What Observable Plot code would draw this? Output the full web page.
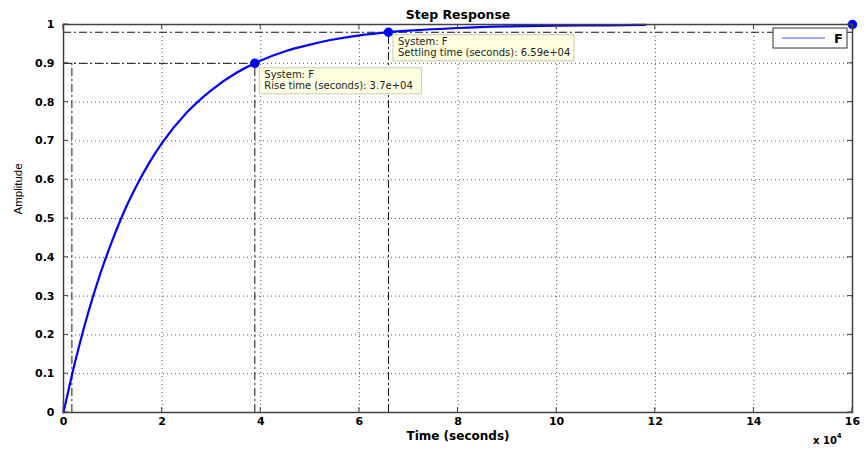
<!DOCTYPE html>
<html><head><meta charset="utf-8">
<script src="https://cdn.jsdelivr.net/npm/d3@7"></script>
<script src="https://cdn.jsdelivr.net/npm/@observablehq/plot@0.6"></script>
<style>
body{margin:0;background:#fff;}
#chart{position:relative;width:866px;height:454px;}
</style>
</head><body><div id="chart"></div>
<script>
// Step response of system F (time in units of 1e4 seconds)
const timeE4 = [0,0.25,0.5,0.75,1,1.25,1.5,1.75,2,2.5,3,3.5,4,4.5,5,5.5,6,6.5,7,8,9,10,11,11.8];
const amplitude = [0,0.138,0.257,0.359,0.447,0.524,0.589,0.646,0.695,0.773,0.831,0.875,0.907,0.931,0.948,0.962,0.972,0.979,0.984,0.991,0.995,0.997,0.998,0.999];
const xTicks = [0,2,4,6,8,10,12,14,16];
const yTicks = [0,0.1,0.2,0.3,0.4,0.5,0.6,0.7,0.8,0.9,1];
const riseLow = 0.17, riseHigh = 3.88, riseLevel = 0.9;
const settleTime = 6.59, settleLevel = 0.98;
const steadyTime = 16, steadyValue = 1;
const riseTip = ["System: F", "Rise time (seconds): 3.7e+04"];
const settleTip = ["System: F", "Settling time (seconds): 6.59e+04"];
const seriesName = "F";

const curve = timeE4.map((t,i)=>({t, a: amplitude[i]}));
const markers = [{t: riseHigh, a: riseLevel},{t: settleTime, a: settleLevel},{t: steadyTime, a: steadyValue}];
const hLines = [{x1:0, x2:riseHigh, y:riseLevel},{x1:0, x2:steadyTime, y:settleLevel}];
const vLines = [{x:riseLow, y1:0, y2:riseLevel},{x:riseHigh, y1:0, y2:riseLevel},{x:settleTime, y1:0, y2:settleLevel}];
const dash = "8,3,2,3";
const gridStyle = {stroke:"#555", strokeOpacity:1, strokeDasharray:"1,3", strokeWidth:1};
const axisCol = "#404040";

const chart = Plot.plot({
  width: 866, height: 454,
  marginLeft: 63, marginRight: 14, marginTop: 24, marginBottom: 42,
  style: {fontFamily: "DejaVu Sans", fontSize: "11px", fontWeight: "bold", color: "black", background: "white", overflow: "visible"},
  x: {domain: [0,16]},
  y: {domain: [0,1]},
  marks: [
    Plot.gridX(xTicks, gridStyle),
    Plot.gridY(yTicks, gridStyle),
    Plot.ruleY(hLines, {y:"y", x1:"x1", x2:"x2", stroke:"#111", strokeDasharray: dash}),
    Plot.ruleX(vLines, {x:"x", y1:"y1", y2:"y2", stroke:"#111", strokeDasharray: dash}),
    Plot.line(curve, {x:"t", y:"a", stroke:"#0000ff", strokeWidth:2.2, curve:"monotone-x"}),
    Plot.dot(markers, {x:"t", y:"a", r:4, fill:"#0000ff", stroke:"#0000ff"}),
    Plot.frame({stroke: axisCol, strokeWidth: 1.5}),
    Plot.axisX(xTicks, {anchor:"bottom", tickSize:0, tickPadding:5, tickFormat: d=>String(d), label:null}),
    Plot.axisY(yTicks, {anchor:"left", tickSize:0, tickPadding:9, tickFormat: d=>String(d), label:null}),
    Plot.text(["Step Response"], {frameAnchor:"top", dy:-6, lineAnchor:"bottom", fontSize:12.5, fontWeight:"bold"}),
    Plot.text(["Time (seconds)"], {frameAnchor:"bottom", dy:19, lineAnchor:"top", fontSize:12, fontWeight:"bold"}),
    Plot.text(["Amplitude"], {frameAnchor:"left", dx:-45, dy:-4, rotate:-90, fontFamily:"Liberation Sans", fontWeight:"normal", fontSize:11.5})
  ]
});
document.getElementById("chart").appendChild(chart);

(function(){
const sx = chart.scale("x"), sy = chart.scale("y");
const svg = d3.select(chart);
const X = v => sx.apply(v), Y = v => sy.apply(v);
const pLeft = X(0), pRight = X(16), pBottom = Y(0), pTop = Y(1);

// inward tick marks on all four sides
const tk = svg.append("g").attr("stroke", axisCol).attr("stroke-width", 1);
xTicks.forEach(v => {
  tk.append("line").attr("x1", X(v)).attr("x2", X(v)).attr("y1", pBottom).attr("y2", pBottom-5);
  tk.append("line").attr("x1", X(v)).attr("x2", X(v)).attr("y1", pTop).attr("y2", pTop+5);
});
yTicks.forEach(v => {
  tk.append("line").attr("y1", Y(v)).attr("y2", Y(v)).attr("x1", pLeft).attr("x2", pLeft+5);
  tk.append("line").attr("y1", Y(v)).attr("y2", Y(v)).attr("x1", pRight).attr("x2", pRight-5);
});

// data tips
function tip(px, py, dx, dy, lines, w) {
  const g = svg.append("g").attr("transform", `translate(${px+dx},${py+dy})`).attr("text-anchor", "start");
  g.append("rect").attr("width", w).attr("height", 26).attr("fill", "#ffffe1").attr("stroke", "#c9c9b4");
  lines.forEach((s,i) => g.append("text").attr("x", 5).attr("y", 10.5 + i*10.5)
    .attr("font-family", "DejaVu Sans").attr("font-size", 10).attr("font-weight", "normal").attr("fill", "#222").text(s));
}
tip(X(riseHigh), Y(riseLevel), 5, 5, riseTip, 162);
tip(X(settleTime), Y(settleLevel), 5, 3, settleTip, 181);

// legend
const lg = svg.append("g").attr("transform", `translate(${pRight-79},${pTop+4})`).attr("text-anchor", "start");
lg.append("rect").attr("width", 74).attr("height", 20).attr("fill", "white").attr("stroke", "#333").attr("stroke-width", 1);
lg.append("line").attr("x1", 9).attr("x2", 52).attr("y1", 10).attr("y2", 10).attr("stroke", "#4a4aff").attr("stroke-width", 1);
lg.append("text").attr("x", 61).attr("y", 15).attr("font-family", "DejaVu Sans").attr("font-size", 13).attr("font-weight", "bold").text(seriesName);

// x 10^4 exponent label
const ex = svg.append("text").attr("text-anchor", "start").attr("x", pRight - 39).attr("y", pBottom + 32).attr("font-family", "DejaVu Sans").attr("font-size", 10).attr("font-weight", "bold");
ex.append("tspan").text("x 10");
ex.append("tspan").attr("dy", -6).attr("font-size", 7).text("4");
})();
</script>
</body></html>
